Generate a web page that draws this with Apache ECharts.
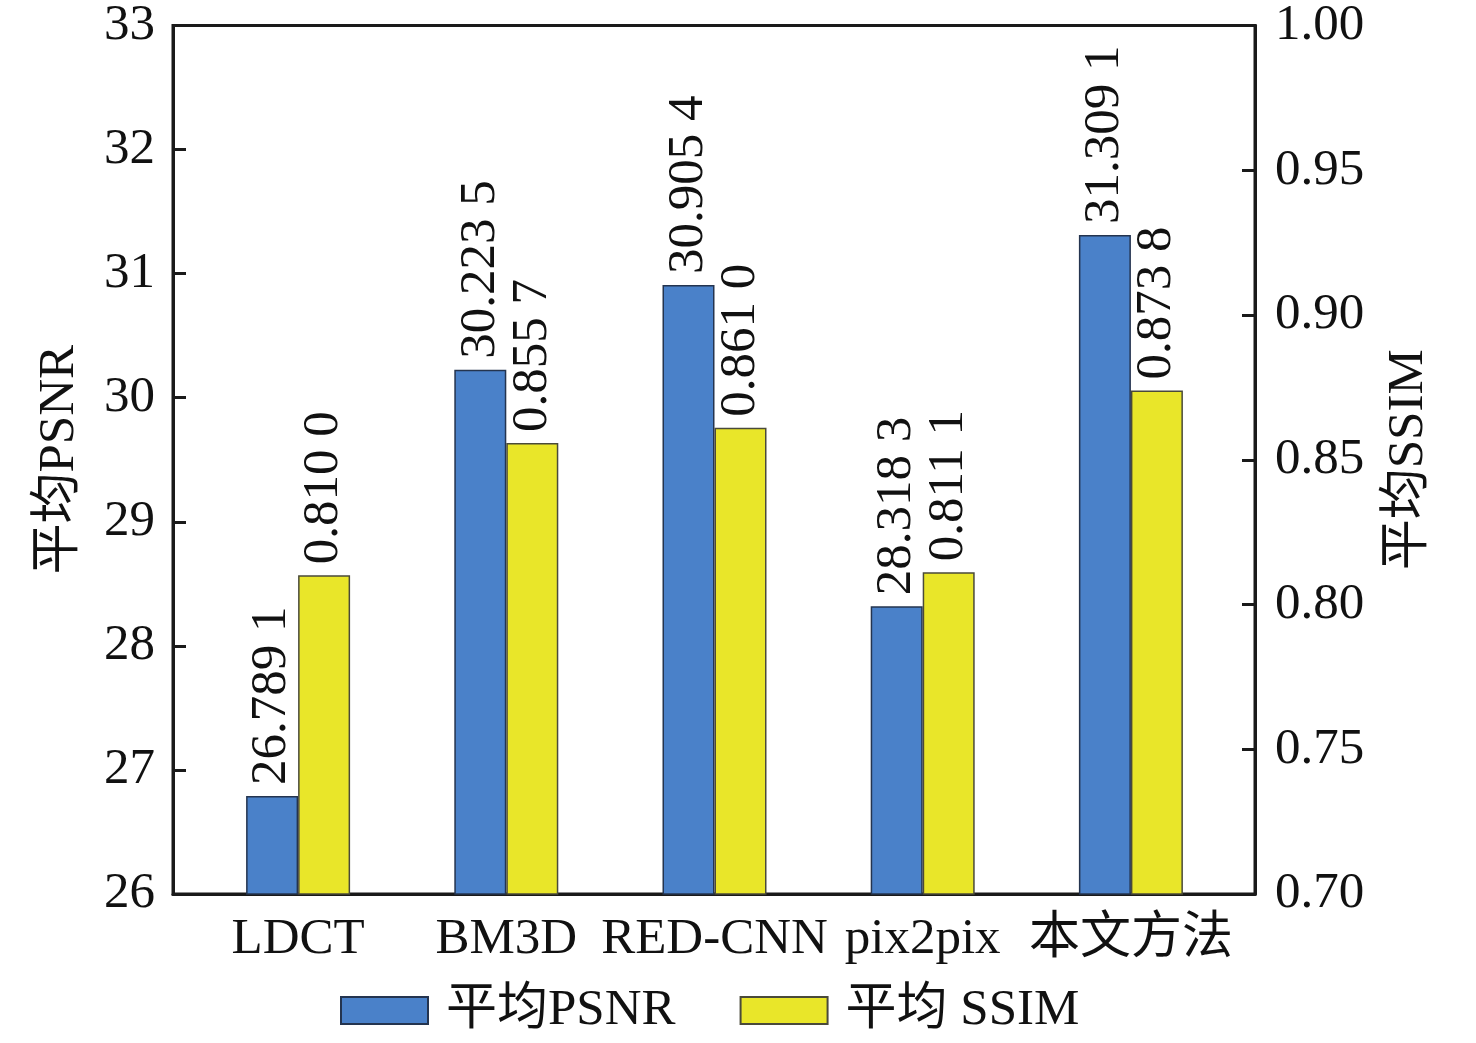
<!DOCTYPE html>
<html><head><meta charset="utf-8">
<script src="https://cdn.jsdelivr.net/npm/echarts@6/dist/echarts.min.js"></script>
<style>html,body{margin:0;padding:0;background:#fff}#c{width:1476px;height:1043px}</style>
</head><body><div id="c"></div>
<script>
const categories = ['LDCT', 'BM3D', 'RED-CNN', 'pix2pix', '本文方法'];
const psnr = [26.7891, 30.2235, 30.9054, 28.3183, 31.3091];
const ssim = [0.8100, 0.8557, 0.8610, 0.8111, 0.8738];
const seriesNames = ['平均PSNR', '平均 SSIM'];
const leftAxisName = '平均PSNR';
const rightAxisName = '平均SSIM';

const FONT = '"Liberation Serif", "Times New Roman", "Noto Sans CJK SC", serif';
const fmt = v => { const s = v.toFixed(4); return s.slice(0, -1) + ' ' + s.slice(-1); };
const labelCfg = {
  show: true, position: 'top', rotate: 90, align: 'left', verticalAlign: 'middle',
  distance: 11, color: '#111', fontFamily: FONT, fontSize: 51,
  formatter: p => fmt(p.value)
};
const axisLineStyle = { color: '#1a1a1a', width: 3 };
const chart = echarts.init(document.getElementById('c'));
chart.setOption({
  animation: false,
  textStyle: { fontFamily: FONT },
  grid: [
    { left: 173, right: 221, top: 25, bottom: 149, show: true, borderColor: '#1a1a1a', borderWidth: 3, backgroundColor: 'transparent' },
    { left: 194, right: 241, top: 25, bottom: 149 }
  ],
  legend: {
    bottom: 2, left: 335, itemWidth: 87, itemHeight: 27, itemGap: 64, icon: 'rect',
    textStyle: { fontFamily: FONT, fontSize: 51, color: '#111', padding: [0, 0, 0, 13] },
    data: seriesNames
  },
  xAxis: [
    {
      type: 'category', gridIndex: 0, data: categories,
      axisLine: { lineStyle: axisLineStyle }, axisTick: { show: false }, axisLabel: { show: false }
    },
    {
      type: 'category', gridIndex: 1, data: categories,
      axisLine: { show: false }, axisTick: { show: false },
      axisLabel: { interval: 0, color: '#111', fontFamily: FONT, fontSize: 51, margin: 20 }
    }
  ],
  yAxis: [
    {
      type: 'value', gridIndex: 0, min: 26, max: 33, interval: 1, position: 'left',
      name: leftAxisName, nameLocation: 'middle', nameGap: 88, nameRotate: 90,
      nameTextStyle: { fontFamily: FONT, fontSize: 51, color: '#111' },
      axisLine: { show: true, lineStyle: axisLineStyle },
      axisTick: { show: true, inside: true, length: 13, lineStyle: axisLineStyle },
      axisLabel: { color: '#111', fontFamily: FONT, fontSize: 51, margin: 18 },
      splitLine: { show: false }
    },
    {
      type: 'value', gridIndex: 0, min: 0.7, max: 1.0, interval: 0.05, position: 'right',
      name: rightAxisName, nameLocation: 'middle', nameGap: 128, nameRotate: 90,
      nameTextStyle: { fontFamily: FONT, fontSize: 51, color: '#111' },
      axisLine: { show: true, lineStyle: axisLineStyle },
      axisTick: { show: true, inside: true, length: 13, lineStyle: axisLineStyle },
      axisLabel: { color: '#111', fontFamily: FONT, fontSize: 51, margin: 20, formatter: v => v.toFixed(2) },
      splitLine: { show: false }
    },
    { type: 'value', gridIndex: 1, min: 26, max: 33, show: false, splitLine: { show: false } },
    { type: 'value', gridIndex: 1, min: 0.7, max: 1.0, show: false, splitLine: { show: false } }
  ],
  series: [
    {
      name: seriesNames[0], type: 'bar', xAxisIndex: 1, yAxisIndex: 2, data: psnr, barWidth: 52, barGap: '0%',
      itemStyle: { color: '#4a81c9', borderColor: '#24344f', borderWidth: 1.5 },
      label: labelCfg
    },
    {
      name: seriesNames[1], type: 'bar', xAxisIndex: 1, yAxisIndex: 3, data: ssim, barWidth: 52, barGap: '0%',
      itemStyle: { color: '#e9e629', borderColor: '#4a4a3a', borderWidth: 1.5 },
      label: labelCfg
    }
  ]
});
</script></body></html>
